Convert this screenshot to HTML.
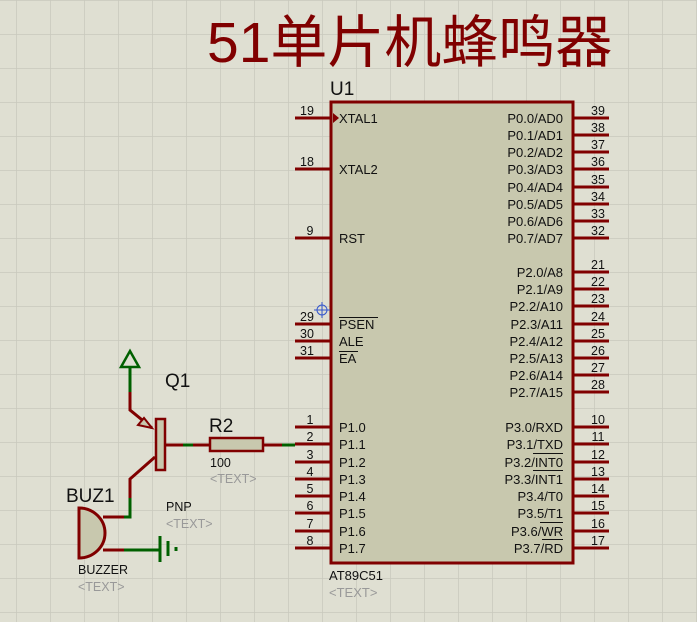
<!DOCTYPE html>
<html><head><meta charset="utf-8"><style>
html,body{margin:0;padding:0;background:#dfdfd2;}
svg{display:block;}
text{font-family:"Liberation Sans",Arial,sans-serif;}
</style></head><body>
<svg width="697" height="622" viewBox="0 0 697 622" xmlns="http://www.w3.org/2000/svg">
<defs>
<pattern id="g" x="16" y="0" width="34" height="34" patternUnits="userSpaceOnUse">
<path d="M0 0V34M0 0H34" stroke="#c9c9bd" stroke-width="1.5" fill="none"/>
</pattern>
</defs>
<rect width="697" height="622" fill="#dfdfd2"/>
<rect width="697" height="622" fill="url(#g)"/>

<text x="207" y="62" font-size="57" fill="#800000" font-family="'Liberation Sans','Noto Sans CJK SC',sans-serif">51单片机蜂鸣器</text>

<!-- chip -->
<text x="330" y="95" font-size="19" fill="#111">U1</text>
<rect x="331" y="102" width="242" height="461" fill="#c8c8ae" stroke="#800000" stroke-width="3"/>
<g stroke="#800000" stroke-width="3">
<path d="M295 118H331M295 169H331M295 238H331M295 324H331M295 341H331M295 358H331M295 427H331M295 444H331M295 462H331M295 479H331M295 496H331M295 513H331M295 531H331M295 548H331"/>
<path d="M573 118H609M573 135H609M573 152H609M573 169H609M573 187H609M573 204H609M573 221H609M573 238H609M573 272H609M573 289H609M573 306H609M573 324H609M573 341H609M573 358H609M573 375H609M573 392H609M573 427H609M573 444H609M573 462H609M573 479H609M573 496H609M573 513H609M573 531H609M573 548H609"/>
</g>
<path d="M333 113L339 118L333 123Z" fill="#800000"/>
<g font-size="12.5" fill="#111" text-anchor="middle">
<text x="307" y="115">19</text><text x="307" y="166">18</text><text x="310" y="235">9</text><text x="307" y="321">29</text><text x="307" y="338">30</text><text x="307" y="355">31</text>
<text x="310" y="424">1</text><text x="310" y="441">2</text><text x="310" y="459">3</text><text x="310" y="476">4</text><text x="310" y="493">5</text><text x="310" y="510">6</text><text x="310" y="528">7</text><text x="310" y="545">8</text>
<text x="598" y="115">39</text><text x="598" y="132">38</text><text x="598" y="149">37</text><text x="598" y="166">36</text><text x="598" y="184">35</text><text x="598" y="201">34</text><text x="598" y="218">33</text><text x="598" y="235">32</text>
<text x="598" y="269">21</text><text x="598" y="286">22</text><text x="598" y="303">23</text><text x="598" y="321">24</text><text x="598" y="338">25</text><text x="598" y="355">26</text><text x="598" y="372">27</text><text x="598" y="389">28</text>
<text x="598" y="424">10</text><text x="598" y="441">11</text><text x="598" y="459">12</text><text x="598" y="476">13</text><text x="598" y="493">14</text><text x="598" y="510">15</text><text x="598" y="528">16</text><text x="598" y="545">17</text>
</g>
<g font-size="13" fill="#111">
<text x="339" y="123">XTAL1</text><text x="339" y="174">XTAL2</text><text x="339" y="243">RST</text>
<text x="339" y="329">PSEN</text><text x="339" y="346">ALE</text><text x="339" y="363">EA</text>
<text x="339" y="432">P1.0</text><text x="339" y="449">P1.1</text><text x="339" y="467">P1.2</text><text x="339" y="484">P1.3</text><text x="339" y="501">P1.4</text><text x="339" y="518">P1.5</text><text x="339" y="536">P1.6</text><text x="339" y="553">P1.7</text>
</g>
<g stroke="#111" stroke-width="1"><path d="M339 317.5H378M339 351.5H358"/></g>
<g font-size="13" fill="#111" text-anchor="end">
<text x="563" y="123">P0.0/AD0</text><text x="563" y="140">P0.1/AD1</text><text x="563" y="157">P0.2/AD2</text><text x="563" y="174">P0.3/AD3</text><text x="563" y="192">P0.4/AD4</text><text x="563" y="209">P0.5/AD5</text><text x="563" y="226">P0.6/AD6</text><text x="563" y="243">P0.7/AD7</text>
<text x="563" y="277">P2.0/A8</text><text x="563" y="294">P2.1/A9</text><text x="563" y="311">P2.2/A10</text><text x="563" y="329">P2.3/A11</text><text x="563" y="346">P2.4/A12</text><text x="563" y="363">P2.5/A13</text><text x="563" y="380">P2.6/A14</text><text x="563" y="397">P2.7/A15</text>
<text x="563" y="432">P3.0/RXD</text><text x="563" y="449">P3.1/TXD</text><text x="563" y="467">P3.2/INT0</text><text x="563" y="484">P3.3/INT1</text><text x="563" y="501">P3.4/T0</text><text x="563" y="518">P3.5/T1</text><text x="563" y="536">P3.6/WR</text><text x="563" y="553">P3.7/RD</text>
</g>
<g stroke="#111" stroke-width="1"><path d="M533 453.5H563M533 470.5H563M540 522.5H563M542 539.5H563"/></g>
<text x="329" y="580" font-size="13" fill="#111">AT89C51</text>
<text x="329" y="597" font-size="13" fill="#999">&lt;TEXT&gt;</text>

<!-- crosshair -->
<g stroke="#3355cc" stroke-width="1" fill="none"><circle cx="322" cy="310" r="5"/><path d="M314 310H330M322 302V318"/></g>

<!-- transistor & wiring -->
<g fill="none" stroke-width="3">
<path d="M130 367V392" stroke="#006000"/>
<path d="M130 392V410L152 428" stroke="#800000"/>
<path d="M165 445H183M193 445H210M263 445H282" stroke="#800000"/>
<path d="M183 445H193M282 445H295" stroke="#006000"/>
<path d="M155 457L130 479V498" stroke="#800000"/>
<path d="M130 498V517H124" stroke="#006000"/>
<path d="M124 517H103M103 550H124" stroke="#800000"/>
<path d="M124 550H160" stroke="#006000"/>
<path d="M160 536V562" stroke="#006000" stroke-width="3"/>
<path d="M168 541V556" stroke="#006000" stroke-width="3"/>
<path d="M176 547V551" stroke="#006000" stroke-width="3"/>
</g>
<path d="M121 367L130 351L139 367Z" fill="none" stroke="#006000" stroke-width="2.5"/>
<path d="M152 428L138 425L144 418Z" fill="#c8c8ae" stroke="#800000" stroke-width="2"/>
<rect x="156" y="419" width="9" height="51" fill="#c8c8ae" stroke="#800000" stroke-width="2.5"/>
<rect x="210" y="438" width="53" height="13" fill="#c8c8ae" stroke="#800000" stroke-width="2.5"/>
<path d="M79 508A26 25 0 0 1 79 558Z" fill="#c8c8ae" stroke="#800000" stroke-width="3"/>

<text x="165" y="387" font-size="19" fill="#111">Q1</text>
<text x="209" y="432" font-size="19" fill="#111">R2</text>
<text x="210" y="467" font-size="12.5" fill="#111">100</text>
<text x="210" y="483" font-size="12.5" fill="#999">&lt;TEXT&gt;</text>
<text x="166" y="511" font-size="12.5" fill="#111">PNP</text>
<text x="166" y="528" font-size="12.5" fill="#999">&lt;TEXT&gt;</text>
<text x="66" y="502" font-size="19" fill="#111">BUZ1</text>
<text x="78" y="574" font-size="12.5" fill="#111">BUZZER</text>
<text x="78" y="591" font-size="12.5" fill="#999">&lt;TEXT&gt;</text>
</svg>
</body></html>
